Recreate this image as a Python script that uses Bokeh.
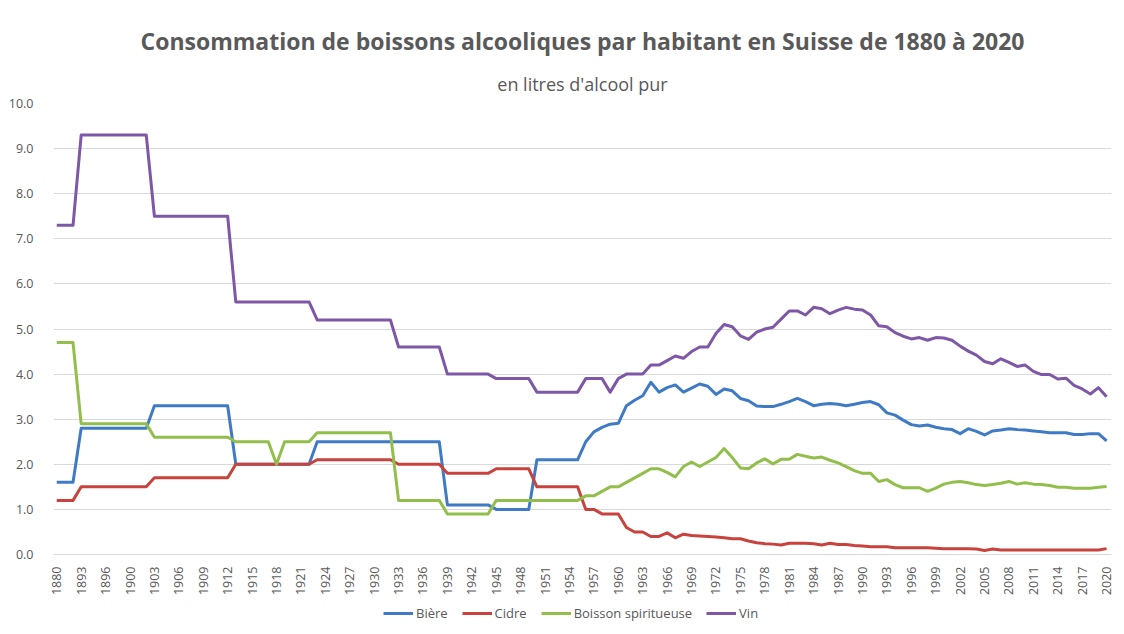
import math
from bokeh.plotting import figure
from bokeh.layouts import column
from bokeh.models import Range1d, FixedTicker, Legend, LegendItem, PrintfTickFormatter, Title
from bokeh.embed import file_html
from bokeh.resources import INLINE

# ---------------- data ----------------
years = [1880, 1881, 1882, 1893, 1894, 1895, 1896, 1897, 1898] + list(range(1900, 2021))

biere = [
    1.6, 1.6, 1.6, 2.8, 2.8, 2.8, 2.8, 2.8, 2.8, 2.8,
    2.8, 2.8, 3.3, 3.3, 3.3, 3.3, 3.3, 3.3, 3.3, 3.3,
    3.3, 3.3, 2.0, 2.0, 2.0, 2.0, 2.0, 2.0, 2.0, 2.0,
    2.0, 2.0, 2.5, 2.5, 2.5, 2.5, 2.5, 2.5, 2.5, 2.5,
    2.5, 2.5, 2.5, 2.5, 2.5, 2.5, 2.5, 2.5, 1.1, 1.1,
    1.1, 1.1, 1.1, 1.1, 1.0, 1.0, 1.0, 1.0, 1.0, 2.1,
    2.1, 2.1, 2.1, 2.1, 2.1, 2.5, 2.72, 2.82, 2.89, 2.91,
    3.3, 3.42, 3.52, 3.82, 3.6, 3.7, 3.76, 3.6, 3.69, 3.78,
    3.73, 3.55, 3.67, 3.63, 3.46, 3.41, 3.29, 3.28, 3.28, 3.33,
    3.39, 3.46, 3.39, 3.3, 3.33, 3.35, 3.33, 3.3, 3.33, 3.37,
    3.39, 3.32, 3.14, 3.09, 2.98, 2.88, 2.85, 2.87, 2.82, 2.79,
    2.77, 2.68, 2.79, 2.73, 2.65, 2.74, 2.76, 2.79, 2.77, 2.76,
    2.74, 2.72, 2.7, 2.7, 2.7, 2.66, 2.66, 2.68, 2.68, 2.52,
]

cidre = [
    1.2, 1.2, 1.2, 1.5, 1.5, 1.5, 1.5, 1.5, 1.5, 1.5,
    1.5, 1.5, 1.7, 1.7, 1.7, 1.7, 1.7, 1.7, 1.7, 1.7,
    1.7, 1.7, 2.0, 2.0, 2.0, 2.0, 2.0, 2.0, 2.0, 2.0,
    2.0, 2.0, 2.1, 2.1, 2.1, 2.1, 2.1, 2.1, 2.1, 2.1,
    2.1, 2.1, 2.0, 2.0, 2.0, 2.0, 2.0, 2.0, 1.8, 1.8,
    1.8, 1.8, 1.8, 1.8, 1.9, 1.9, 1.9, 1.9, 1.9, 1.5,
    1.5, 1.5, 1.5, 1.5, 1.5, 1.0, 1.0, 0.9, 0.9, 0.9,
    0.6, 0.5, 0.5, 0.4, 0.4, 0.48, 0.37, 0.45, 0.42, 0.41,
    0.4, 0.39, 0.37, 0.35, 0.35, 0.3, 0.26, 0.24, 0.23, 0.21,
    0.25, 0.25, 0.25, 0.24, 0.21, 0.25, 0.22, 0.22, 0.2, 0.19,
    0.17, 0.17, 0.17, 0.15, 0.15, 0.15, 0.15, 0.15, 0.14, 0.13,
    0.13, 0.13, 0.13, 0.12, 0.09, 0.12, 0.1, 0.1, 0.1, 0.1,
    0.1, 0.1, 0.1, 0.1, 0.1, 0.1, 0.1, 0.1, 0.1, 0.13,
]

spiritueux = [
    4.7, 4.7, 4.7, 2.9, 2.9, 2.9, 2.9, 2.9, 2.9, 2.9,
    2.9, 2.9, 2.6, 2.6, 2.6, 2.6, 2.6, 2.6, 2.6, 2.6,
    2.6, 2.6, 2.5, 2.5, 2.5, 2.5, 2.5, 2.0, 2.5, 2.5,
    2.5, 2.5, 2.7, 2.7, 2.7, 2.7, 2.7, 2.7, 2.7, 2.7,
    2.7, 2.7, 1.2, 1.2, 1.2, 1.2, 1.2, 1.2, 0.9, 0.9,
    0.9, 0.9, 0.9, 0.9, 1.2, 1.2, 1.2, 1.2, 1.2, 1.2,
    1.2, 1.2, 1.2, 1.2, 1.2, 1.3, 1.3, 1.4, 1.5, 1.5,
    1.6, 1.7, 1.8, 1.9, 1.9, 1.82, 1.72, 1.95, 2.05, 1.95,
    2.05, 2.15, 2.35, 2.15, 1.92, 1.9, 2.03, 2.12, 2.01, 2.11,
    2.11, 2.22, 2.18, 2.14, 2.16, 2.09, 2.03, 1.95, 1.86, 1.8,
    1.8, 1.62, 1.66, 1.55, 1.48, 1.48, 1.48, 1.4, 1.47, 1.56,
    1.6, 1.62, 1.59, 1.55, 1.53, 1.55, 1.58, 1.62, 1.56, 1.59,
    1.56, 1.55, 1.53, 1.49, 1.49, 1.47, 1.47, 1.47, 1.49, 1.51,
]

vin = [
    7.3, 7.3, 7.3, 9.3, 9.3, 9.3, 9.3, 9.3, 9.3, 9.3,
    9.3, 9.3, 7.5, 7.5, 7.5, 7.5, 7.5, 7.5, 7.5, 7.5,
    7.5, 7.5, 5.6, 5.6, 5.6, 5.6, 5.6, 5.6, 5.6, 5.6,
    5.6, 5.6, 5.2, 5.2, 5.2, 5.2, 5.2, 5.2, 5.2, 5.2,
    5.2, 5.2, 4.6, 4.6, 4.6, 4.6, 4.6, 4.6, 4.0, 4.0,
    4.0, 4.0, 4.0, 4.0, 3.9, 3.9, 3.9, 3.9, 3.9, 3.6,
    3.6, 3.6, 3.6, 3.6, 3.6, 3.9, 3.9, 3.9, 3.6, 3.9,
    4.0, 4.0, 4.0, 4.2, 4.2, 4.3, 4.4, 4.35, 4.5, 4.6,
    4.6, 4.9, 5.1, 5.05, 4.85, 4.77, 4.93, 5.0, 5.04, 5.22,
    5.4, 5.4, 5.31, 5.48, 5.45, 5.34, 5.42, 5.48, 5.44, 5.42,
    5.31, 5.07, 5.05, 4.92, 4.84, 4.78, 4.81, 4.75, 4.81, 4.8,
    4.75, 4.62, 4.51, 4.42, 4.28, 4.23, 4.34, 4.26, 4.17, 4.2,
    4.06, 3.99, 3.99, 3.89, 3.91, 3.75, 3.67, 3.56, 3.7, 3.5,
]

series_names = ["Bière", "Cidre", "Boisson spiritueuse", "Vin"]
y_ticks = [0, 1, 2, 3, 4, 5, 6, 7, 8, 9, 10]
title_text = "Consommation de boissons alcooliques par habitant en Suisse de 1880 à 2020"
subtitle_text = "en litres d'alcool pur"

# ---------------- styling ----------------
colors = ["#3F7BC4", "#C8433E", "#92BF4C", "#7E58A6"]
TXT = "#595959"
FONT = "Open Sans"
W = 1116

idx = list(range(len(years)))
x_ticks = idx[::3]
all_series = [biere, cidre, spiritueux, vin]

p = figure(width=W, height=599, output_backend="svg", toolbar_location=None, title=None,
           x_range=Range1d(-0.4, len(years) - 1 + 0.6), y_range=Range1d(0, 10),
           min_border_left=53, min_border_right=5, min_border_top=103, min_border_bottom=45)
p.outline_line_color = None
p.background_fill_color = "white"
p.border_fill_color = "white"

p.xgrid.grid_line_color = None
p.ygrid.grid_line_color = "#d9d9d9"
p.ygrid.grid_line_width = 1

p.yaxis.ticker = FixedTicker(ticks=y_ticks)
p.yaxis.formatter = PrintfTickFormatter(format="%.1f")
p.yaxis.axis_line_color = None
p.yaxis.major_tick_line_color = None
p.yaxis.minor_tick_line_color = None
p.yaxis.major_label_standoff = 14
p.yaxis.major_label_text_font = FONT
p.yaxis.major_label_text_font_size = "12.5px"
p.yaxis.major_label_text_color = TXT

p.xaxis.ticker = FixedTicker(ticks=x_ticks)
p.xaxis.major_label_overrides = {i: str(years[i]) for i in x_ticks}
p.xaxis.major_label_orientation = math.pi / 2
p.xaxis.axis_line_color = "#d9d9d9"
p.xaxis.major_tick_line_color = None
p.xaxis.minor_tick_line_color = None
p.xaxis.major_label_standoff = 6
p.xaxis.major_label_text_font = FONT
p.xaxis.major_label_text_font_size = "12.5px"
p.xaxis.major_label_text_color = TXT

for vals, col in zip(all_series, colors):
    p.line(idx, vals, line_color=col, line_width=3, line_join="round")

# subtitle first (nearest the frame), main title second (on top)
p.add_layout(Title(text=subtitle_text, align="center", text_font=FONT, text_font_size="18px",
                   text_font_style="normal", text_color=TXT, standoff=15), "above")
p.add_layout(Title(text=title_text, align="center", text_font=FONT, text_font_size="23px",
                   text_font_style="bold", text_color=TXT, standoff=11), "above")

# legend strip below the chart (same series drawn out of view, only the legend shows)
lg = figure(width=W, height=27, output_backend="svg", toolbar_location=None, title=None,
            x_range=Range1d(0, len(years) - 1), y_range=Range1d(-200, -190),
            x_axis_type=None, y_axis_type=None, min_border=0)
lg.outline_line_color = None
lg.background_fill_color = "white"
lg.border_fill_color = "white"
proxies = [lg.line(idx, vals, line_color=c, line_width=3) for vals, c in zip(all_series, colors)]
legend = Legend(items=[LegendItem(label=n, renderers=[r]) for n, r in zip(series_names, proxies)],
                orientation="horizontal", location=(330, 4),
                glyph_width=30, glyph_height=14, label_standoff=3, spacing=14,
                padding=0, margin=0, border_line_color=None, background_fill_alpha=0,
                label_text_font=FONT, label_text_font_size="13px", label_text_color=TXT)
lg.add_layout(legend)

layout = column(p, lg, spacing=0)
open("out.html", "w").write(file_html(layout, INLINE, "chart"))
